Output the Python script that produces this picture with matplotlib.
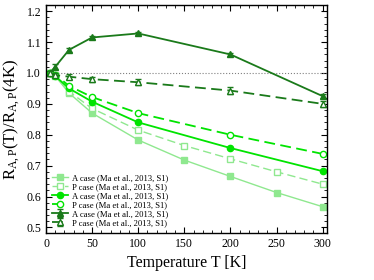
import matplotlib
matplotlib.use('Agg')
import matplotlib.pyplot as plt
from matplotlib.ticker import MultipleLocator

plt.rcParams['font.family'] = ['Liberation Serif', 'DejaVu Serif']
plt.rcParams['mathtext.fontset'] = 'custom'
plt.rcParams['mathtext.rm'] = 'Liberation Serif'
plt.rcParams['mathtext.it'] = 'Liberation Serif'

# temperatures (K)
t_long = [4, 10, 25, 50, 100, 150, 200, 250, 300]
t_short = [4, 10, 25, 50, 100, 200, 300]

# light green (squares)
a_sq = [1.0, 0.99, 0.935, 0.87, 0.783, 0.718, 0.665, 0.613, 0.567]
p_sq = [1.0, 0.992, 0.94, 0.885, 0.815, 0.765, 0.722, 0.68, 0.64]
# bright green (circles)
a_ci = [1.0, 0.99, 0.95, 0.907, 0.84, 0.757, 0.682]
p_ci = [1.0, 0.995, 0.958, 0.922, 0.87, 0.80, 0.738]
# dark green (triangles) with error bars
a_tr = [1.0, 1.02, 1.075, 1.115, 1.128, 1.06, 0.925]
a_tr_err = [0.006, 0.008, 0.006, 0.006, 0.006, 0.006, 0.007]
p_tr = [1.0, 0.993, 0.988, 0.98, 0.97, 0.943, 0.9]
p_tr_err = [0.006, 0.008, 0.008, 0.008, 0.01, 0.01, 0.01]

lab_a = 'A case (Ma et al., 2013, S1)'
lab_p = 'P case (Ma et al., 2013, S1)'

c_light = '#8fe88f'
c_mid = '#00e400'
c_dark = '#1a7a1a'

fig = plt.figure(figsize=(3.74, 2.8), dpi=100)
ax = fig.add_axes([0.123, 0.168, 0.752, 0.814])

ax.axhline(1.0, color='grey', ls=':', lw=0.8)

ax.plot(t_long, a_sq, '-s', color=c_light, ms=4, lw=1.0, label=lab_a)
ax.plot(t_long, p_sq, '-s', color=c_light, mfc='white', ms=4, lw=1.0,
        dashes=(6, 3), label=lab_p)
ax.plot(t_short, a_ci, '-o', color=c_mid, ms=4.5, lw=1.3, label=lab_a)
ax.plot(t_short, p_ci, '-o', color=c_mid, mfc='white', ms=4.5, lw=1.3,
        dashes=(6, 3), label=lab_p)
ax.errorbar(t_short, a_tr, yerr=a_tr_err, fmt='-^', color=c_dark, ms=4.5, lw=1.3,
            capsize=2, elinewidth=0.8, label=lab_a)
ax.errorbar(t_short, p_tr, yerr=p_tr_err, fmt='-^', color=c_dark, mfc='white', ms=4.5,
            lw=1.3, capsize=2, elinewidth=0.8, dashes=(6, 3), label=lab_p)

ax.set_xlim(0, 305)
ax.set_ylim(0.482, 1.22)
ax.xaxis.set_major_locator(MultipleLocator(50))
ax.xaxis.set_minor_locator(MultipleLocator(10))
ax.yaxis.set_major_locator(MultipleLocator(0.1))
ax.yaxis.set_minor_locator(MultipleLocator(0.02))
ax.tick_params(which='both', direction='in', top=True, right=True, labelsize=8.5)
ax.tick_params(which='major', length=4)
ax.tick_params(which='minor', length=2)
for s in ax.spines.values():
    s.set_linewidth(1.0)

ax.set_xlabel('Temperature T [K]', fontsize=11.5)
ax.set_ylabel(r'R$_{\mathrm{A,P}}$(T)/R$_{\mathrm{A,P}}$(4K)', fontsize=12, labelpad=3)

handles, labels = ax.get_legend_handles_labels()
ax.legend(handles, labels, loc='lower left', fontsize=6.2, frameon=False,
          handlelength=1.8, labelspacing=0.1, borderaxespad=0.3, handletextpad=0.5)

fig.savefig('out.png', dpi=100)
